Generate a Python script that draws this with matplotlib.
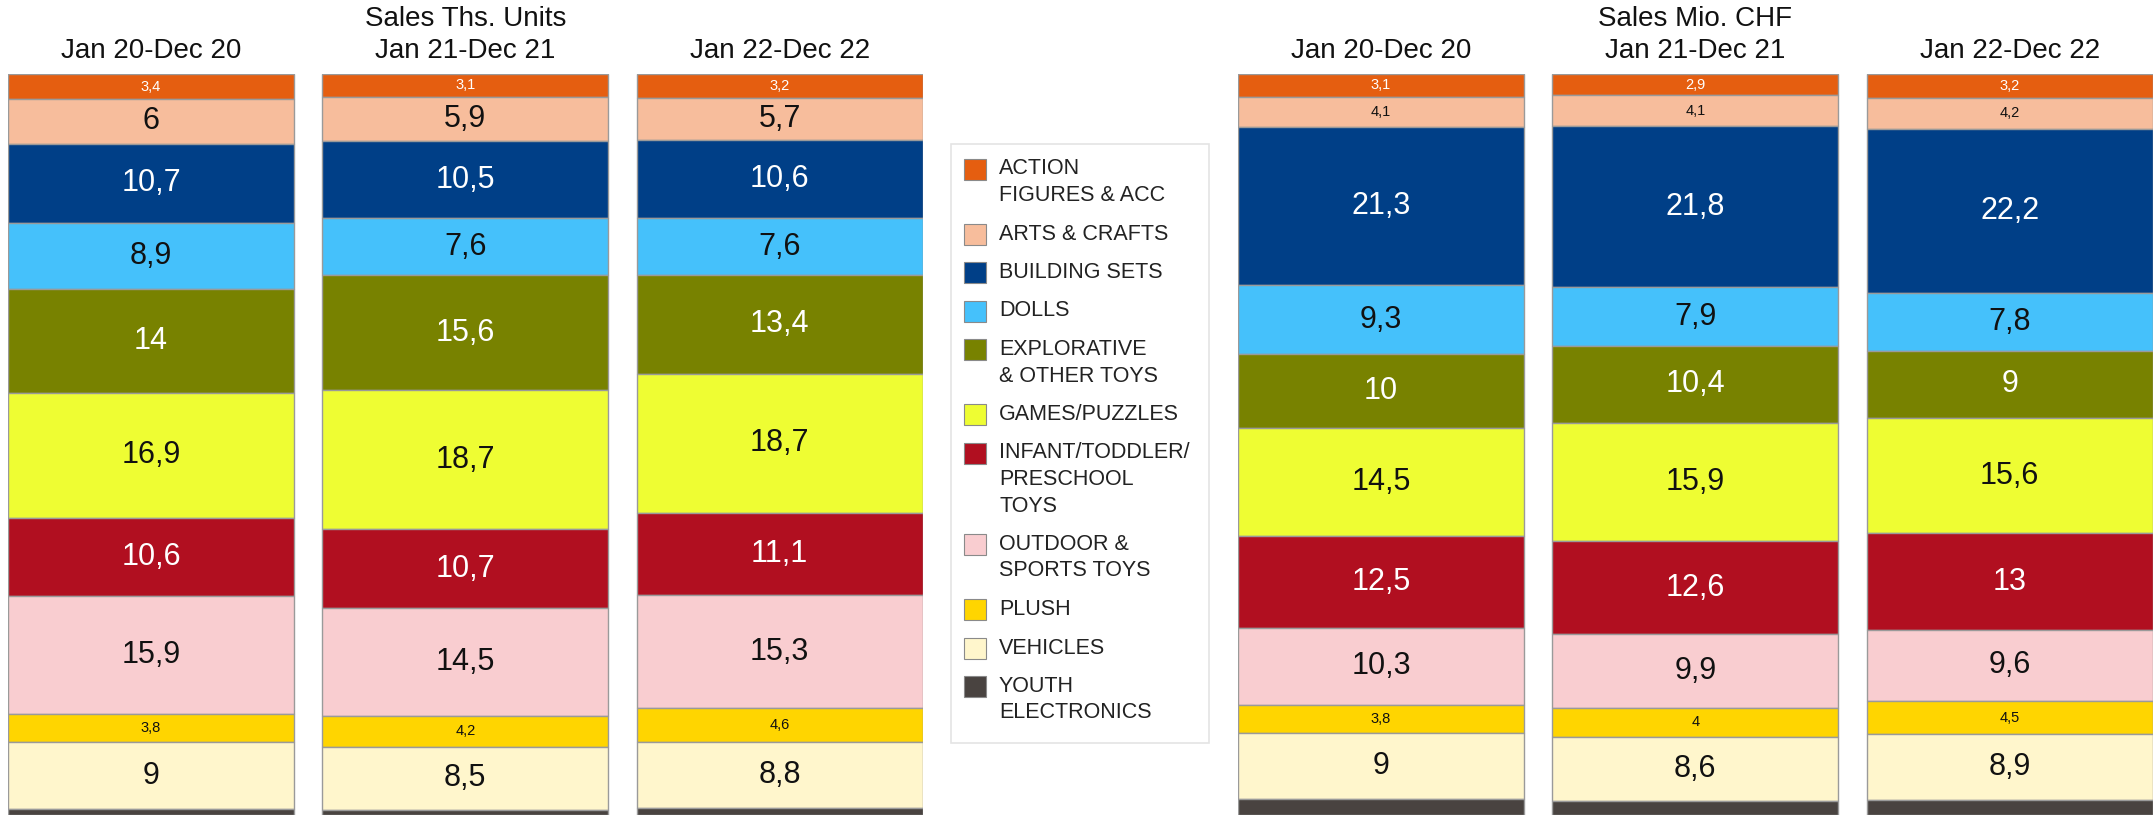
import matplotlib
matplotlib.use("Agg")
import matplotlib.pyplot as plt
from matplotlib import font_manager
from matplotlib.patches import Rectangle

categories = ["ACTION\nFIGURES & ACC", "ARTS & CRAFTS", "BUILDING SETS", "DOLLS",
              "EXPLORATIVE\n& OTHER TOYS", "GAMES/PUZZLES",
              "INFANT/TODDLER/\nPRESCHOOL\nTOYS", "OUTDOOR &\nSPORTS TOYS",
              "PLUSH", "VEHICLES", "YOUTH\nELECTRONICS"]
colors = ["#E55E10", "#F7BD9C", "#003F87", "#45C1FB", "#788200", "#EEFD33",
          "#B10F20", "#F9CDD0", "#FFD500", "#FFF6CC", "#494340"]
white_text = [True, False, True, False, True, False, True, False, False, False, True]
periods = ["Jan 20-Dec 20", "Jan 21-Dec 21", "Jan 22-Dec 22"]

# share in % per category (last one is cut off at the bottom of the picture)
units_20 = [3.4, 6, 10.7, 8.9, 14, 16.9, 10.6, 15.9, 3.8, 9, 0.8]
units_21 = [3.1, 5.9, 10.5, 7.6, 15.6, 18.7, 10.7, 14.5, 4.2, 8.5, 0.7]
units_22 = [3.2, 5.7, 10.6, 7.6, 13.4, 18.7, 11.1, 15.3, 4.6, 8.8, 1.0]
chf_20 = [3.1, 4.1, 21.3, 9.3, 10, 14.5, 12.5, 10.3, 3.8, 9, 2.1]
chf_21 = [2.9, 4.1, 21.8, 7.9, 10.4, 15.9, 12.6, 9.9, 4, 8.6, 1.9]
chf_22 = [3.2, 4.2, 22.2, 7.8, 9, 15.6, 13, 9.6, 4.5, 8.9, 2.0]

W, H = 2154, 815

names = {f.name for f in font_manager.fontManager.ttflist}
if "Liberation Sans Narrow" in names:
    narrow, title_size, small_size = "Liberation Sans Narrow", 22, 11.5
else:
    narrow, title_size, small_size = "Liberation Sans", 20, 10.5
plt.rcParams["font.family"] = ["Liberation Sans", "DejaVu Sans"]

fig = plt.figure(figsize=(W / 100, H / 100), dpi=100)


def fx(px):
    return px / W


def fy(py):
    return 1 - py / H


def draw_group(left_px, title, series):
    step = 314.3
    w = 286 / step
    width_px = (2 + w) * step
    ax = fig.add_axes([fx(left_px), 0, fx(width_px), fy(74)])
    for i, vals in enumerate(series):
        bottom = 0
        for j, v in enumerate(vals):
            ax.bar(i, v, width=w, bottom=bottom, color=colors[j],
                   edgecolor="#9a9a9a", linewidth=1)
            if j < len(vals) - 1:
                txt = f"{v:g}".replace(".", ",")
                col = "white" if white_text[j] else "#111111"
                if v < 5:
                    ax.text(i, bottom + v / 2, txt, ha="center", va="center",
                            color=col, fontsize=small_size, family=narrow)
                else:
                    ax.text(i, bottom + v / 2, txt, ha="center", va="center",
                            color=col, fontsize=22)
            bottom += v
    ax.set_xlim(-w / 2, 2 + w / 2)
    ax.set_ylim(100, 0)
    ax.axis("off")
    for i, p in enumerate(periods):
        cx = left_px + (w / 2 + i) * step
        fig.text(fx(cx), fy(51), p, ha="center", va="center",
                 fontsize=title_size, family=narrow, color="#111111")
    fig.text(fx(left_px + (w / 2 + 1) * step), fy(19), title, ha="center",
             va="center", fontsize=title_size, family=narrow, color="#111111")


draw_group(8, "Sales Ths. Units", [units_20, units_21, units_22])
draw_group(1238, "Sales Mio. CHF", [chf_20, chf_21, chf_22])

# legend drawn by hand so the swatch lines up with the first text line
lg = fig.add_axes([0, 0, 1, 1], facecolor="none")
lg.set_xlim(0, W)
lg.set_ylim(H, 0)
lg.axis("off")
lg.add_patch(Rectangle((951, 144), 258, 599, facecolor="white",
                       edgecolor="#e4e4e4", linewidth=1.2))
y = 169
for name, c in zip(categories, colors):
    lines = name.split("\n")
    lg.add_patch(Rectangle((964, y - 10.5), 22, 21, facecolor=c,
                           edgecolor="#8a8a8a", linewidth=0.8))
    for k, line in enumerate(lines):
        lg.text(999, y + k * 26.5, line, ha="left", va="center",
                fontsize=15.5, color="#222222")
    y += 38.5 + 26.5 * (len(lines) - 1)

fig.savefig("out.png", dpi=100)
